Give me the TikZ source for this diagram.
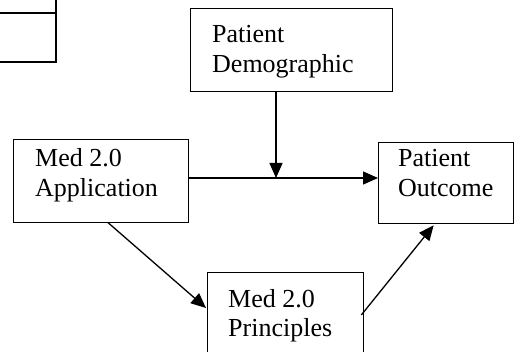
\documentclass[tikz,border=0pt]{standalone}
\usepackage{fontspec}
\setmainfont{Liberation Serif}
\usetikzlibrary{arrows.meta,calc}
\tikzset{
  box/.style={draw, line width=1.3pt, inner sep=0pt, anchor=north west},
  txt/.style={inner sep=0pt, anchor=base west, font=\fontsize{26}{30}\selectfont},
  arr/.style={line width=1.3pt, -{Triangle[length=15pt,width=13pt]}},
  frag/.style={line width=2.8pt}
}
\begin{document}
\begin{tikzpicture}[x=1pt,y=-1pt]
  \clip (0,0) rectangle (514,352);
  \fill[white] (0,0) rectangle (514,352);

  % corner of a box cut off at the top left
  \draw[frag] (-5,13) -- (56,13);
  \draw[frag] (56,-5) -- (56,62) -- (-5,62);

  % boxes
  \node[box, minimum width=202pt, minimum height=83pt] (demo) at (190,8) {};
  \node[box, minimum width=175pt, minimum height=83pt] (app)  at (13,139) {};
  \node[box, minimum width=135pt, minimum height=81pt] (out)  at (378,142) {};
  \node[box, minimum width=156pt, minimum height=100pt] (prin) at (207,272) {};

  % labels
  \node[txt] (demoA) at (212,43)  {Patient};
  \node[txt] (demoB) at (212,73)  {Demographic};
  \node[txt] (appA)  at (35,167)  {Med 2.0};
  \node[txt] (appB)  at (35,197)  {Application};
  \node[txt] (outA)  at (398,167) {Patient};
  \node[txt] (outB)  at (398,197) {Outcome};
  \node[txt] (prinA) at (228,308) {Med 2.0};
  \node[txt] (prinB) at (228,337) {Principles};

  % connectors
  \coordinate (hl) at (0,178);
  \coordinate (mid) at (276,178);
  \draw[arr] (app.east |- hl) -- (out.west |- hl);
  \draw[arr] (demo.south -| mid) -- (mid);
  \draw[arr] ($(app.south)+(6.5,-1)$) -- ($(prin.north west)+(-1,36)$);
  \draw[arr] ($(prin.north east)+(-3,43)$) -- ($(out.south)+(-12.5,1)$);
\end{tikzpicture}
\end{document}
